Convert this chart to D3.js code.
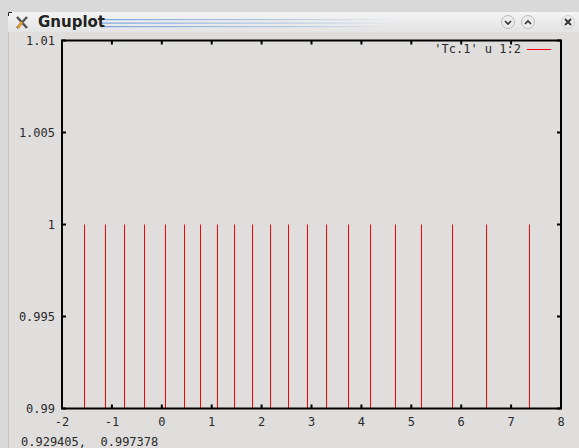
<html>
<head>
<script src="https://cdn.jsdelivr.net/npm/d3@7"></script>
<style>
  body { margin: 0; background: #d9d9d9; }
  text { font-family: "DejaVu Sans Mono", monospace; font-size: 12px; fill: #2a2a2a; white-space: pre; }
</style>
</head>
<body>
<svg id="vis"></svg>
<script>
// impulse positions (column 1), all at value 1 (column 2)
const xs = [-1.554, -1.14, -0.754, -0.36, 0.066, 0.44, 0.774, 1.114, 1.446, 1.806,
            2.166, 2.534, 2.906, 3.294, 3.726, 4.166, 4.666, 5.2, 5.806, 6.494, 7.366];
const ys = xs.map(() => 1);
const xTicks = [-2, -1, 0, 1, 2, 3, 4, 5, 6, 7, 8];
const yTicks = [0.99, 0.995, 1, 1.005, 1.01];
const legendLabel = "'Tc.1' u 1:2";
const statusText = "0.929405,  0.997378";

const W = 579, H = 448;
const svg = d3.select('#vis').attr('width', W).attr('height', H);

// window frame
svg.append('rect').attr('x', 0).attr('y', 0).attr('width', W).attr('height', H).attr('fill', '#d9d9d9');
svg.append('rect').attr('x', 8).attr('y', 32).attr('width', W - 8).attr('height', H - 32).attr('fill', '#dfdedd');
svg.append('line').attr('x1', 8.5).attr('x2', 8.5).attr('y1', 12).attr('y2', H)
  .attr('stroke', '#c4c4c4');

// title bar
let defs = svg.append('defs');
let grad = defs.append('linearGradient').attr('id', 'tb')
  .attr('x1', 0).attr('x2', 0).attr('y1', 0).attr('y2', 1);
grad.append('stop').attr('offset', '0%').attr('stop-color', '#f4f4f4');
grad.append('stop').attr('offset', '100%').attr('stop-color', '#e4e4e4');
let sg = defs.append('linearGradient').attr('id', 'stripe');
sg.append('stop').attr('offset', '0%').attr('stop-color', '#6a9ee0').attr('stop-opacity', 0.9);
sg.append('stop').attr('offset', '60%').attr('stop-color', '#8ab0e0').attr('stop-opacity', 0.6);
sg.append('stop').attr('offset', '100%').attr('stop-color', '#8ab0e0').attr('stop-opacity', 0);

svg.append('rect').attr('x', 8).attr('y', 12).attr('width', W - 8).attr('height', 20).attr('fill', 'url(#tb)');
svg.append('path').attr('d', 'M8.5,16 V12.5 H12').attr('fill', 'none').attr('stroke', '#222').attr('stroke-width', 1);
[19.5, 23, 26.5].forEach(yy => {
  svg.append('rect').attr('x', 100).attr('y', yy - 0.5).attr('width', 300).attr('height', 1.2)
    .attr('fill', 'url(#stripe)');
});
// X icon
svg.append('path').attr('d', 'M17,17 L27,28 M27,17 L17,28').attr('stroke', '#555').attr('stroke-width', 2.5);
svg.append('path').attr('d', 'M18,28 L22,22').attr('stroke', '#e89a2a').attr('stroke-width', 2.5);
svg.append('text').attr('x', 38).attr('y', 27).text('Gnuplot')
  .style('font-family', '"DejaVu Sans", sans-serif').style('font-weight', 'bold')
  .style('font-size', '15px').style('fill', '#222');
// buttons
[[508, 'M505,21 l3,3 l3,-3'], [528, 'M525,24 l3,-3 l3,3']].forEach(([cx, d]) => {
  svg.append('circle').attr('cx', cx).attr('cy', 22).attr('r', 6.5)
    .attr('fill', '#ececec').attr('stroke', '#bbb');
  svg.append('path').attr('d', d).attr('fill', 'none').attr('stroke', '#333').attr('stroke-width', 1.6);
});
svg.append('circle').attr('cx', 568).attr('cy', 22).attr('r', 6.5).attr('fill', '#ececec').attr('stroke', '#ccc');
svg.append('path').attr('d', 'M565,19 l6,6 M571,19 l-6,6').attr('stroke', '#333').attr('stroke-width', 1.8);

// plot
const pLeft = 62, pRight = 561, pTop = 40.5, pBottom = 408.5;
const x = d3.scaleLinear().domain([-2, 8]).range([pLeft, pRight]);
const y = d3.scaleLinear().domain([0.99, 1.01]).range([pBottom, pTop]);

const data = xs.map((v, i) => ({x: v, y: ys[i]}));
svg.selectAll('.imp').data(data).enter().append('line')
  .attr('class', 'imp')
  .attr('x1', d => Math.round(x(d.x)) + 0.5)
  .attr('x2', d => Math.round(x(d.x)) + 0.5)
  .attr('y1', y(0.99))
  .attr('y2', d => y(d.y))
  .attr('stroke', '#ff0000').attr('stroke-width', 1);

// ticks, inward on all four sides
const tl = 4;
xTicks.forEach(t => {
  svg.append('line').attr('x1', x(t)).attr('x2', x(t)).attr('y1', pBottom).attr('y2', pBottom - tl)
    .attr('stroke', '#000').attr('stroke-width', 2);
  svg.append('line').attr('x1', x(t)).attr('x2', x(t)).attr('y1', pTop).attr('y2', pTop + tl)
    .attr('stroke', '#000').attr('stroke-width', 2);
  svg.append('text').attr('x', x(t)).attr('y', 426).attr('text-anchor', 'middle').text(t);
});
yTicks.forEach(t => {
  svg.append('line').attr('x1', pLeft).attr('x2', pLeft + tl).attr('y1', y(t)).attr('y2', y(t))
    .attr('stroke', '#000').attr('stroke-width', 2);
  svg.append('line').attr('x1', pRight).attr('x2', pRight - tl).attr('y1', y(t)).attr('y2', y(t))
    .attr('stroke', '#000').attr('stroke-width', 2);
  svg.append('text').attr('x', 55).attr('y', y(t) + 4).attr('text-anchor', 'end').text(t);
});

svg.append('rect').attr('x', pLeft).attr('y', pTop).attr('width', pRight - pLeft).attr('height', pBottom - pTop)
  .attr('fill', 'none').attr('stroke', '#000').attr('stroke-width', 2);

// key
svg.append('text').attr('x', 521).attr('y', 53).attr('text-anchor', 'end').text(legendLabel);
svg.append('line').attr('x1', 527).attr('x2', 551).attr('y1', 49.5).attr('y2', 49.5)
  .attr('stroke', '#ff0000').attr('stroke-width', 1);

// status line
svg.append('text').attr('x', 21).attr('y', 446).text(statusText);
</script>
</body>
</html>
